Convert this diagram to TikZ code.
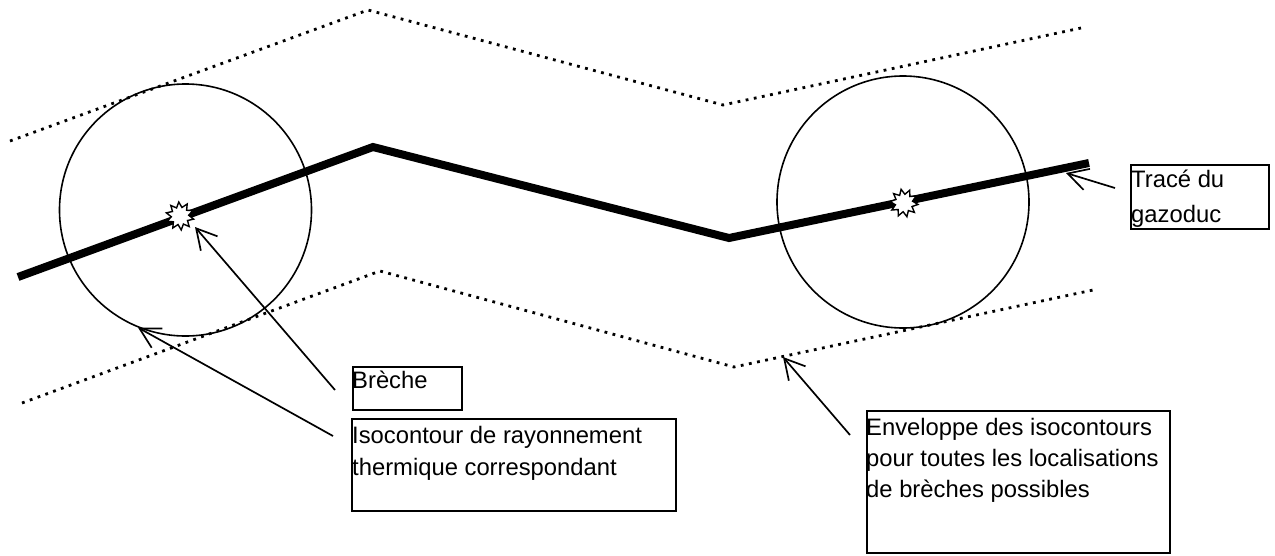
\documentclass[tikz,border=0pt]{standalone}
\usepackage{fontspec}
\setmainfont{Liberation Sans}
\usetikzlibrary{shapes.geometric,arrows.meta}
\begin{document}
\begin{tikzpicture}[x=1pt,y=-1pt,
  pipe/.style={line width=8pt, line join=miter},
  envelope/.style={line width=2.8pt, dash pattern=on 2.8pt off 5.5pt},
  zone/.style={circle, draw, line width=1.6pt, minimum size=252pt, inner sep=0pt},
  burst/.style={star, star points=10, star point ratio=1.6, draw, fill=white,
    line width=1.4pt, minimum size=28pt, inner sep=0pt},
  labelbox/.style={draw, line width=1.6pt, anchor=north west, inner sep=0pt},
  labeltext/.style={anchor=base west, inner sep=0pt},
  pointer/.style={line width=1.7pt,
    -{Straight Barb[length=20pt,width=22pt,line width=1.7pt]}}
]
\useasboundingbox (0,0) rectangle (1275,555);
\newcommand\lbfont[1]{\fontsize{23.8}{#1}\selectfont}

% thermal radiation isocontours around the two breach points
\node[zone] (cL) at (185.5,210) {};
\node[zone] (cR) at (903,202) {};

% envelope of all isocontours (upper and lower bounds)
\coordinate (u1) at (10,141);
\coordinate (u2) at (368,10);
\coordinate (u3) at (723,105);
\coordinate (u4) at (1081,28);
\draw[envelope] (u1) -- (u2) -- (u3) -- (u4);

\coordinate (d1) at (22,403);
\coordinate (d2) at (380,271);
\coordinate (d3) at (734,367);
\coordinate (d4) at (1093,290);
\draw[envelope] (d1) -- (d2) -- (d3) -- (d4);

% pipeline route
\coordinate (p1) at (18,277);
\coordinate (p2) at (373,147);
\coordinate (p3) at (729,238);
\coordinate (p4) at (1089,163);
\draw[pipe] (p1) -- (p2) -- (p3) -- (p4);

% breach markers
\node[burst, rotate=5] (bL) at (180,216) {};
\node[burst, rotate=12] (bR) at (904,203) {};

% label boxes
\node[labelbox, minimum width=138pt, minimum height=64pt] (trbox) at (1130,164) {};
\node[labeltext] (trtext) at (1131,187.5)
  {\lbfont{35}\begin{tabular}[t]{@{}l@{}}Tracé du\\gazoduc\end{tabular}};

\node[labelbox, minimum width=109pt, minimum height=43pt] (brbox) at (352,366) {};
\node[labeltext] (brtext) at (352,388.3) {\lbfont{31.5}Brèche};

\node[labelbox, minimum width=324pt, minimum height=92pt] (isobox) at (351,418) {};
\node[labeltext] (isotext) at (352,443.7)
  {\lbfont{31.7}\begin{tabular}[t]{@{}l@{}}Isocontour de rayonnement\\thermique correspondant\end{tabular}};

\node[labelbox, minimum width=303pt, minimum height=142pt] (envbox) at (866,410) {};
\node[labeltext] (envtext) at (866,435)
  {\lbfont{31}\begin{tabular}[t]{@{}l@{}}Enveloppe des isocontours\\pour toutes les localisations\\de brèches possibles\end{tabular}};

% pointer tails beside the boxes
\coordinate (trtail) at (1115,188);
\coordinate (brtail) at (335,390);
\coordinate (isotail) at (333,436);
\coordinate (envtail) at (850,435);

% pointer targets
\coordinate (trtip) at (1066,173);
\coordinate (brtip) at (195,227);
\coordinate (envtip) at (783,357);

\draw[pointer] (trtail) -- (trtip);
\draw[pointer] (brtail) -- (brtip);
\draw[pointer] (isotail) -- (cL.248);
\draw[pointer] (envtail) -- (envtip);
\end{tikzpicture}
\end{document}
